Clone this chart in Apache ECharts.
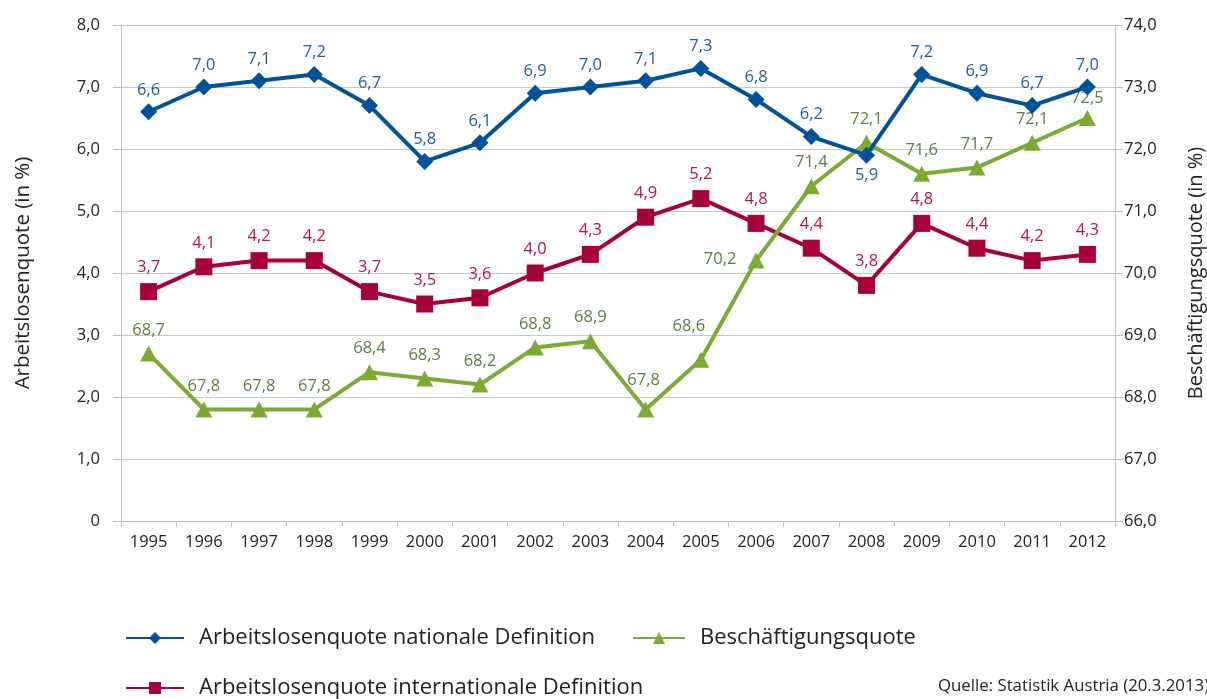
<!DOCTYPE html>
<html>
<head>
<meta charset="utf-8">
<script src="https://cdn.jsdelivr.net/npm/echarts@6/dist/echarts.min.js"></script>
<style>
  html, body { margin: 0; padding: 0; background: #fff; }
  #chart { width: 1207px; height: 699px; }
</style>
</head>
<body>
<div id="chart"></div>
<script>
  // Jahre
  var years = ['1995', '1996', '1997', '1998', '1999', '2000', '2001', '2002', '2003',
    '2004', '2005', '2006', '2007', '2008', '2009', '2010', '2011', '2012'];
  // Arbeitslosenquote nationale Definition
  var nationalRate = [6.6, 7.0, 7.1, 7.2, 6.7, 5.8, 6.1, 6.9, 7.0, 7.1, 7.3, 6.8, 6.2, 5.9, 7.2, 6.9, 6.7, 7.0];
  // Arbeitslosenquote internationale Definition
  var internationalRate = [3.7, 4.1, 4.2, 4.2, 3.7, 3.5, 3.6, 4.0, 4.3, 4.9, 5.2, 4.8, 4.4, 3.8, 4.8, 4.4, 4.2, 4.3];
  // Beschäftigungsquote
  var employmentRate = [68.7, 67.8, 67.8, 67.8, 68.4, 68.3, 68.2, 68.8, 68.9, 67.8, 68.6, 70.2, 71.4, 72.1, 71.6, 71.7, 72.1, 72.5];

  var fontFamily = '"Open Sans", sans-serif';
  var blue = '#00529b', red = '#a8003a', green = '#7aab32';

  function fmt(v) {
    return v.toFixed(1).replace('.', ',');
  }

  // einzelne Beschriftungen verschieben (wie im Original)
  var blueLabelBelow = { '2008': true };
  var greenLabelOffset = {
    '2004': [-2, -6],
    '2005': [-12, -10],
    '2006': [-36, 22],
    '2012': [0, 4]
  };

  var nationalData = nationalRate.map(function (v, i) {
    var item = { value: v };
    if (blueLabelBelow[years[i]]) {
      item.label = { position: 'bottom', distance: 3 };
    }
    return item;
  });
  var employmentData = employmentRate.map(function (v, i) {
    var item = { value: v };
    if (greenLabelOffset[years[i]]) {
      item.label = { offset: greenLabelOffset[years[i]] };
    }
    return item;
  });

  var legendText = { fontSize: 22, color: '#222', fontFamily: fontFamily, padding: [0, 0, 0, 10] };

  var myChart = echarts.init(document.getElementById('chart'));
  var option = {
    backgroundColor: '#fff',
    animation: false,
    textStyle: { fontFamily: fontFamily },
    grid: {
      left: 121,
      right: 92,
      top: 25,
      height: 496,
      outerBoundsMode: 'none'
    },
    legend: [
      {
        left: 125, top: 627, padding: 0,
        itemWidth: 58, itemHeight: 15,
        textStyle: legendText,
        data: ['Arbeitslosenquote nationale Definition']
      },
      {
        left: 632, top: 627, padding: 0,
        itemWidth: 52, itemHeight: 15,
        textStyle: legendText,
        data: ['Beschäftigungsquote']
      },
      {
        left: 125, top: 677, padding: 0,
        itemWidth: 58, itemHeight: 15,
        textStyle: legendText,
        data: ['Arbeitslosenquote internationale Definition']
      }
    ],
    graphic: [
      {
        type: 'text',
        left: 938,
        top: 678,
        style: {
          text: 'Quelle: Statistik Austria (20.3.2013)',
          fontSize: 16.8,
          fontFamily: fontFamily,
          fill: '#222'
        }
      }
    ],
    xAxis: [{
      type: 'category',
      data: years,
      boundaryGap: true,
      axisLine: { lineStyle: { color: '#bdbdbd', width: 1 } },
      axisTick: { show: true, length: 6, lineStyle: { color: '#bdbdbd' } },
      axisLabel: { color: '#222', fontSize: 16.5, margin: 13 }
    }],
    yAxis: [
      {
        type: 'value',
        min: 0,
        max: 8,
        interval: 1,
        position: 'left',
        name: 'Arbeitslosenquote (in %)',
        nameLocation: 'middle',
        nameRotate: 90,
        nameGap: 87,
        nameTextStyle: { fontSize: 20.5, color: '#222' },
        axisLine: { show: true, lineStyle: { color: '#bdbdbd' } },
        axisTick: { show: true, length: 8, lineStyle: { color: '#bdbdbd' } },
        axisLabel: {
          color: '#222', fontSize: 16.5, margin: 21,
          formatter: function (v) { return v === 0 ? '0' : fmt(v); }
        },
        splitLine: { show: true, lineStyle: { color: '#c8c8c8', width: 1 } }
      },
      {
        type: 'value',
        min: 66,
        max: 74,
        interval: 1,
        position: 'right',
        name: 'Beschäftigungsquote (in %)',
        nameLocation: 'middle',
        nameRotate: 90,
        nameGap: 71,
        nameTextStyle: { fontSize: 20, color: '#222' },
        axisLine: { show: true, lineStyle: { color: '#bdbdbd' } },
        axisTick: { show: true, length: 8, lineStyle: { color: '#bdbdbd' } },
        axisLabel: {
          color: '#222', fontSize: 16.5, margin: 9,
          formatter: function (v) { return fmt(v); }
        },
        splitLine: { show: false }
      }
    ],
    series: [
      {
        name: 'Arbeitslosenquote nationale Definition',
        type: 'line',
        yAxisIndex: 0,
        symbol: 'diamond',
        symbolSize: [17, 17],
        lineStyle: { color: blue, width: 4 },
        itemStyle: { color: blue },
        label: {
          show: true, position: 'top', distance: 5,
          color: '#1a5ea8', fontSize: 16.5,
          formatter: function (p) { return fmt(p.value); }
        },
        data: nationalData,
        z: 3
      },
      {
        name: 'Arbeitslosenquote internationale Definition',
        type: 'line',
        yAxisIndex: 0,
        symbol: 'rect',
        symbolSize: [17, 17],
        lineStyle: { color: red, width: 4 },
        itemStyle: { color: red },
        label: {
          show: true, position: 'top', distance: 7,
          color: '#b5154b', fontSize: 16.5,
          formatter: function (p) { return fmt(p.value); }
        },
        data: internationalRate,
        z: 2
      },
      {
        name: 'Beschäftigungsquote',
        type: 'line',
        yAxisIndex: 1,
        symbol: 'triangle',
        symbolSize: [17, 16],
        lineStyle: { color: green, width: 4 },
        itemStyle: { color: green },
        label: {
          show: true, position: 'top', distance: 7,
          color: '#5a7f3a', fontSize: 16.5,
          formatter: function (p) { return fmt(p.value); }
        },
        data: employmentData,
        z: 2
      }
    ]
  };
  myChart.setOption(option, true);
</script>
</body>
</html>
